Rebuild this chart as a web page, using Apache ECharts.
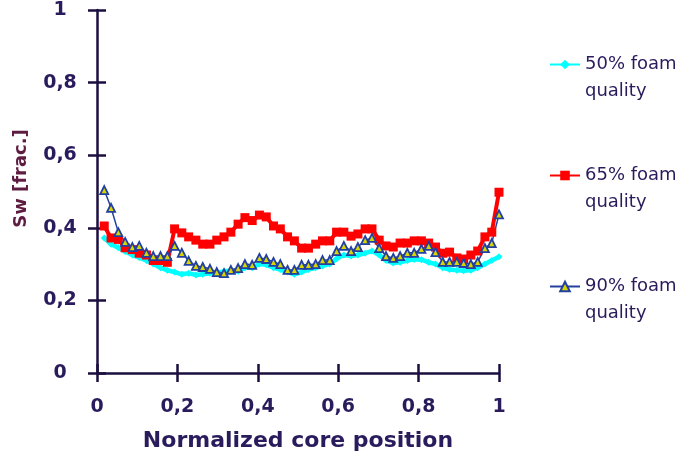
<!DOCTYPE html>
<html>
<head>
<meta charset="utf-8">
<script src="https://cdn.jsdelivr.net/npm/echarts@6/dist/echarts.min.js"></script>
<style>html,body{margin:0;padding:0;background:#fff;}#c{width:685px;height:458px;}</style>
</head>
<body>
<div id="c"></div>
<script>
const xPos = [0.018,0.035,0.053,0.070,0.088,0.105,0.123,0.140,0.158,0.175,0.193,0.211,0.228,0.246,0.263,0.281,0.298,0.316,0.333,0.351,0.368,0.386,0.404,0.421,0.439,0.456,0.474,0.491,0.509,0.526,0.544,0.561,0.579,0.596,0.614,0.632,0.649,0.667,0.684,0.702,0.719,0.737,0.754,0.772,0.789,0.807,0.825,0.842,0.860,0.877,0.895,0.912,0.930,0.947,0.965,0.982,1.0];
const sw50 = [0.372,0.355,0.345,0.335,0.325,0.318,0.310,0.300,0.290,0.283,0.278,0.272,0.275,0.270,0.272,0.275,0.276,0.280,0.282,0.280,0.290,0.290,0.300,0.298,0.290,0.285,0.278,0.272,0.278,0.285,0.290,0.295,0.300,0.315,0.325,0.322,0.325,0.330,0.336,0.325,0.310,0.303,0.305,0.310,0.313,0.312,0.305,0.300,0.290,0.285,0.283,0.282,0.283,0.290,0.300,0.310,0.320];
const sw65 = [0.405,0.372,0.368,0.345,0.340,0.330,0.325,0.310,0.310,0.305,0.397,0.386,0.375,0.366,0.355,0.355,0.366,0.375,0.388,0.410,0.428,0.420,0.435,0.430,0.405,0.397,0.375,0.364,0.344,0.344,0.355,0.364,0.364,0.388,0.388,0.377,0.383,0.397,0.397,0.366,0.350,0.347,0.358,0.358,0.364,0.364,0.358,0.347,0.330,0.333,0.317,0.314,0.325,0.336,0.375,0.388,0.498];
const sw90 = [0.504,0.455,0.388,0.361,0.347,0.350,0.331,0.322,0.322,0.322,0.350,0.331,0.309,0.295,0.292,0.287,0.278,0.275,0.284,0.289,0.300,0.298,0.317,0.314,0.306,0.300,0.284,0.284,0.298,0.298,0.300,0.311,0.311,0.336,0.350,0.336,0.347,0.366,0.372,0.344,0.322,0.317,0.322,0.331,0.331,0.342,0.350,0.333,0.306,0.306,0.306,0.303,0.300,0.306,0.344,0.358,0.437];
const seriesNames = ['50% foam\nquality','65% foam\nquality','90% foam\nquality'];
const xTicks = ['0','0,2','0,4','0,6','0,8','1'];
const yTicks = ['0','0,2','0,4','0,6','0,8','1'];

const axisColor = '#1c0f40';
const textColor = '#2a1b5c';
const font = 'DejaVu Sans';
const fmtX = v => xTicks[Math.round(v * 5)];
const fmtY = v => yTicks[Math.round(v * 5)];
const pair = arr => xPos.map((x, i) => [x, arr[i]]);

const chart = echarts.init(document.getElementById('c'), null, {renderer: 'canvas'});
chart.setOption({
  backgroundColor: '#ffffff',
  animation: false,
  grid: {left: 97, right: 186, top: 10, bottom: 85, containLabel: false},
  xAxis: [{
    type: 'value', min: 0, max: 1, interval: 0.2, position: 'bottom',
    name: 'Normalized core position', nameLocation: 'middle', nameGap: 57,
    nameTextStyle: {fontFamily: font, fontWeight: 'bold', fontSize: 22, color: textColor},
    axisLine: {onZero: false, lineStyle: {color: axisColor, width: 2.5}},
    axisTick: {length: 9, lineStyle: {color: axisColor, width: 2.5}},
    axisLabel: {formatter: fmtX, margin: 25, fontFamily: font, fontWeight: 'bold', fontSize: 19, color: textColor},
    splitLine: {show: false}
  }, {
    type: 'value', min: 0, max: 1, interval: 0.2, position: 'bottom',
    axisLine: {show: false},
    axisTick: {inside: true, length: 9, lineStyle: {color: axisColor, width: 2.5}},
    axisLabel: {show: false}, splitLine: {show: false}
  }],
  yAxis: [{
    type: 'value', min: 0, max: 1, interval: 0.2, position: 'left',
    name: 'Sw [frac.]', nameLocation: 'middle', nameGap: 67,
    nameTextStyle: {fontFamily: font, fontWeight: 'bold', fontSize: 18, color: '#5e1c40', padding: [0, 0, 0, 26]},
    axisLine: {onZero: false, lineStyle: {color: axisColor, width: 2.5}},
    axisTick: {length: 9, lineStyle: {color: axisColor, width: 2.5}},
    axisLabel: {formatter: fmtY, margin: 37, align: 'center', fontFamily: font, fontWeight: 'bold', fontSize: 19, color: textColor},
    splitLine: {show: false}
  }, {
    type: 'value', min: 0, max: 1, interval: 0.2, position: 'left',
    axisLine: {show: false},
    axisTick: {inside: true, length: 9, lineStyle: {color: axisColor, width: 2.5}},
    axisLabel: {show: false}, splitLine: {show: false}
  }],
  legend: {
    orient: 'vertical', left: 549, top: 24, padding: 0,
    itemWidth: 30, itemHeight: 12, itemGap: 30,
    data: seriesNames,
    formatter: name => '\n' + name,
    textStyle: {fontFamily: font, fontSize: 18, color: textColor, lineHeight: 27}
  },
  series: [{
    name: seriesNames[0], type: 'line', data: pair(sw50),
    symbol: 'diamond', symbolSize: 7,
    lineStyle: {color: '#00ffff', width: 4.5},
    itemStyle: {color: '#00ffff'}
  }, {
    name: seriesNames[1], type: 'line', data: pair(sw65),
    symbol: 'rect', symbolSize: 9,
    lineStyle: {color: '#ff0000', width: 4},
    itemStyle: {color: '#ff0000'}
  }, {
    name: seriesNames[2], type: 'line', data: pair(sw90),
    symbol: 'triangle', symbolSize: 8,
    lineStyle: {color: '#2340a0', width: 1.5},
    itemStyle: {color: '#d6d600', borderColor: '#2340a0', borderWidth: 1.8}
  }]
});
</script>
</body>
</html>
